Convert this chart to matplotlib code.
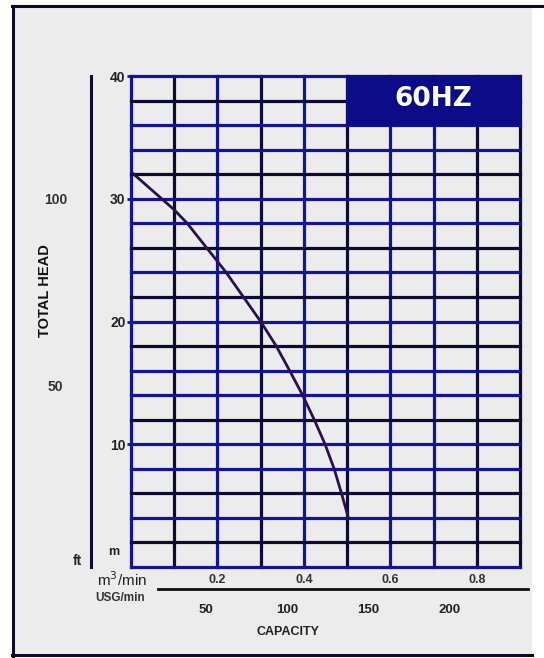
import numpy as np
import matplotlib
matplotlib.use('Agg')
import matplotlib.pyplot as plt
from matplotlib.patches import Rectangle
from matplotlib.lines import Line2D

# ── Data ──────────────────────────────────────────────────────────────────────
capacity_m3 = [0.0, 0.071, 0.10, 0.13, 0.175, 0.20, 0.22, 0.26, 0.30, 0.336,
               0.367, 0.397, 0.424, 0.449, 0.47, 0.487, 0.503]
head_m      = [32.2, 30.0, 29.1, 28.0, 26.0, 24.9, 24.0, 22.0, 20.0, 18.0,
               16.0, 14.0, 12.0, 10.0, 8.0, 6.0, 4.0]

m_ticks   = [10, 20, 30, 40]
ft_ticks  = [50, 100]
m3_ticks  = [0.2, 0.4, 0.6, 0.8]
usg_ticks = [50, 100, 150, 200]

FT_TO_M = 0.3048
USG_TO_M3 = 0.00375

# ── Colours ───────────────────────────────────────────────────────────────────
col_bg    = '#ececec'
col_blue  = '#14149a'
col_dark  = '#0c0c32'
col_box   = '#0c0c88'
col_curve = '#2a1050'
col_text  = '#222222'
col_frame = '#0a0a2a'

W, H = 544, 658
fig = plt.figure(figsize=(W / 100, H / 100), dpi=100, facecolor='white')

def fx(x):
    return x / W

def fy(y):
    return 1 - y / H

# panel background + frame
fig.add_artist(Rectangle((fx(13), fy(656)), fx(532) - fx(13), fy(6) - fy(656),
                         transform=fig.transFigure, facecolor=col_bg,
                         edgecolor='none', zorder=0))
fig.add_artist(Line2D([fx(12), fx(544)], [fy(6), fy(6)], transform=fig.transFigure,
                      color=col_frame, lw=2.2))
fig.add_artist(Line2D([fx(13), fx(13)], [fy(6), fy(656)], transform=fig.transFigure,
                      color=col_frame, lw=2.2))
fig.add_artist(Line2D([fx(12), fx(532)], [fy(655), fy(655)], transform=fig.transFigure,
                      color=col_frame, lw=2.2))

# ── Axes ──────────────────────────────────────────────────────────────────────
ax = fig.add_axes([fx(131), fy(567), fx(520) - fx(131), fy(76) - fy(567)])
ax.set_facecolor(col_bg)
ax.set_xlim(0, 0.9)
ax.set_ylim(0, 40)
for s in ax.spines.values():
    s.set_visible(False)

vcols = ['b', 'd', 'b', 'd', 'b', 'd', 'b', 'b', 'd', 'd']
for i, c in enumerate(vcols):
    ax.axvline(i * 0.1, color=col_blue if c == 'b' else col_dark, lw=2.3, zorder=1,
               clip_on=False)
hcols = ['b', 'd', 'b', 'd', 'b', 'b', 'd', 'b', 'b', 'd', 'b',
         'd', 'b', 'd', 'b', 'b', 'd', 'b', 'b', 'd', 'b']
for i, c in enumerate(hcols):
    ax.axhline(i * 2, color=col_blue if c == 'b' else col_dark, lw=2.3, zorder=1,
               clip_on=False)

# 60HZ box
ax.add_patch(Rectangle((0.5, 36), 0.4, 4, facecolor=col_box, edgecolor=col_box,
                       lw=1.5, zorder=3, clip_on=False))
ax.text(0.7, 38.1, '60HZ', color='white', fontsize=19, fontweight='bold',
        family=['DejaVu Sans'], ha='center', va='center', zorder=4)

# curve
ax.plot(capacity_m3, head_m, color=col_curve, lw=2.0, zorder=5)

narrow = ['Liberation Sans Narrow', 'Liberation Sans', 'DejaVu Sans']

# m ticks
ax.set_yticks(m_ticks)
ax.set_yticklabels([str(v) for v in m_ticks], fontsize=10, fontweight='bold',
                   color=col_text, family=narrow)
ax.tick_params(axis='y', length=3, width=2, color=col_blue, pad=1)
ax.set_xticks([])
ax.text(-0.04, 1.2, 'm', fontsize=9, fontweight='bold', color=col_text,
        family=narrow, ha='center', va='center')

# ft scale
ax.plot([-0.0925, -0.0925], [0, 40], color=col_dark, lw=2.2, clip_on=False)
for v in ft_ticks:
    ax.text(-0.175, v * FT_TO_M, str(v), fontsize=10, fontweight='bold',
            color='#333333', family=narrow, ha='center', va='top')
ax.text(-0.125, 0.5, 'ft', fontsize=10, fontweight='bold', color=col_text,
        family=narrow, ha='center', va='center')
ax.text(-0.2, 22.5, 'TOTAL HEAD', fontsize=10.5, fontweight='bold', color='#111111',
        family=narrow, rotation=90, ha='center', va='center')

# capacity scales
ax.plot([0.0625, 0.9175], [-1.8, -1.8], color='#111111', lw=2.0, clip_on=False)
for v in m3_ticks:
    ax.text(v, -1.05, f'{v:.1f}', fontsize=9, fontweight='bold', color='#333333',
            family=narrow, ha='center', va='center')
for v in usg_ticks:
    ax.text(v * USG_TO_M3 - 0.014, -3.5, str(v), fontsize=9.5, fontweight='bold',
            color='#222222', family=narrow, ha='center', va='center')
ax.text(-0.02, -1.05, 'm$^3$/min', fontsize=11, color='#222222', family=narrow,
        ha='center', va='center')
ax.text(-0.025, -2.5, 'USG/min', fontsize=8.5, fontweight='bold', color='#333333',
        family=narrow, ha='center', va='center')
ax.text(0.363, -5.3, 'CAPACITY', fontsize=9, fontweight='bold', color='#222222',
        family=narrow, ha='center', va='center')

fig.savefig('out.png', dpi=100, facecolor='white')
